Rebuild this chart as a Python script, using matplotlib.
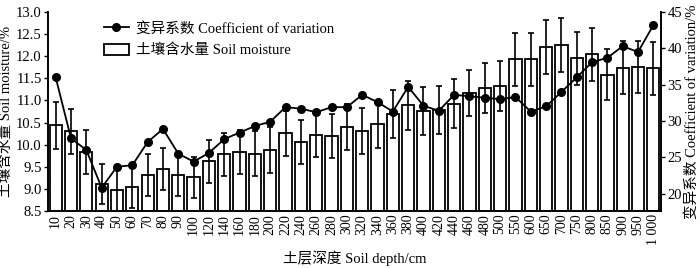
import matplotlib
matplotlib.use("Agg")
import matplotlib.pyplot as plt
import numpy as np

depths = ["10", "20", "30", "40", "50", "60", "70", "80", "90", "100",
          "120", "140", "160", "180", "200", "220", "240", "260", "280", "300",
          "320", "340", "360", "380", "400", "420", "440", "460", "480", "500",
          "550", "600", "650", "700", "750", "800", "850", "900", "950", "1 000"]

moisture = [10.44, 10.30, 9.84, 9.11, 8.97, 9.05, 9.31, 9.45, 9.32, 9.26,
            9.62, 9.78, 9.83, 9.80, 9.88, 10.26, 10.06, 10.23, 10.20, 10.39,
            10.32, 10.46, 10.69, 10.89, 10.76, 10.79, 10.93, 11.17, 11.28, 11.33,
            11.93, 11.93, 12.20, 12.25, 11.96, 12.04, 11.58, 11.74, 11.75, 11.73]

moisture_err = [0.53, 0.51, 0.50, 0.45, 0.49, 0.49, 0.47, 0.48, 0.47, 0.46,
                0.48, 0.49, 0.50, 0.50, 0.51, 0.51, 0.50, 0.51, 0.50, 0.52,
                0.52, 0.53, 0.54, 0.55, 0.55, 0.54, 0.55, 0.53, 0.56, 0.57,
                0.60, 0.60, 0.61, 0.61, 0.60, 0.61, 0.58, 0.60, 0.59, 0.60]

cv = [36.0, 27.6, 26.0, 20.8, 23.7, 23.9, 27.1, 28.9, 25.5, 24.4,
      25.6, 27.5, 28.4, 29.3, 29.9, 31.9, 31.7, 31.2, 31.9, 31.9,
      33.6, 32.6, 31.3, 34.7, 32.1, 31.4, 33.6, 33.4, 33.2, 33.0,
      33.3, 31.3, 32.0, 34.0, 36.0, 38.1, 38.7, 40.3, 39.5, 43.2]

left_ticks = [8.5, 9.0, 9.5, 10.0, 10.5, 11.0, 11.5, 12.0, 12.5, 13.0]
right_ticks = [20, 25, 30, 35, 40, 45]

plt.rcParams['font.family'] = ['Liberation Serif', 'Noto Sans CJK SC']
plt.rcParams['font.size'] = 10.5

fig = plt.figure(figsize=(7.0, 2.68), dpi=100)
ax = fig.add_axes([0.0686, 0.2127, 0.8757, 0.7423])
ax2 = ax.twinx()

x = np.arange(len(depths))
bars = ax.bar(x, moisture, width=0.8, color='white', edgecolor='black',
              linewidth=1.3, zorder=2)
ax.errorbar(x, moisture, yerr=moisture_err, fmt='none', ecolor='black',
            elinewidth=1.2, capsize=2.5, capthick=1.2, zorder=3)

line, = ax2.plot(x, cv, color='black', marker='o', markersize=5.5,
                 linewidth=1.3, zorder=4)

ax.set_xlim(-0.5, len(depths) - 0.5)
ax.set_ylim(8.5, 13.0)
ax2.set_ylim(17.6, 45)
ax.set_yticks(left_ticks)
ax.set_yticklabels([f"{v:.1f}" for v in left_ticks])
ax2.set_yticks(right_ticks)
ax.set_xticks(x)
ax.set_xticklabels(depths, rotation=90, fontsize=10)
ax.tick_params(axis='x', length=0, pad=2)
ax.tick_params(axis='y', direction='out', length=3, width=1, pad=1.5)
ax2.tick_params(axis='y', direction='out', length=3, width=1, pad=1.5)

for a in (ax, ax2):
    a.spines['top'].set_visible(False)
    for s in ('left', 'right', 'bottom'):
        a.spines[s].set_linewidth(1.2)

ax.set_ylabel('土壤含水量 Soil moisture/%', fontsize=10.5, labelpad=2)
ax2.set_ylabel('变异系数 Coefficient of variation/%', fontsize=10.5, labelpad=2)
ax.set_xlabel('土层深度 Soil depth/cm', fontsize=10.5, labelpad=4)

leg = ax2.legend([line, bars], ['变异系数 Coefficient of variation', '土壤含水量 Soil moisture'],
                 loc='upper left', bbox_to_anchor=(0.081, 0.98), frameon=False,
                 handlelength=1.75, handleheight=0.8, handletextpad=0.45,
                 labelspacing=0.55, borderaxespad=0.0, fontsize=10.5)

fig.savefig('out.png', dpi=100)
